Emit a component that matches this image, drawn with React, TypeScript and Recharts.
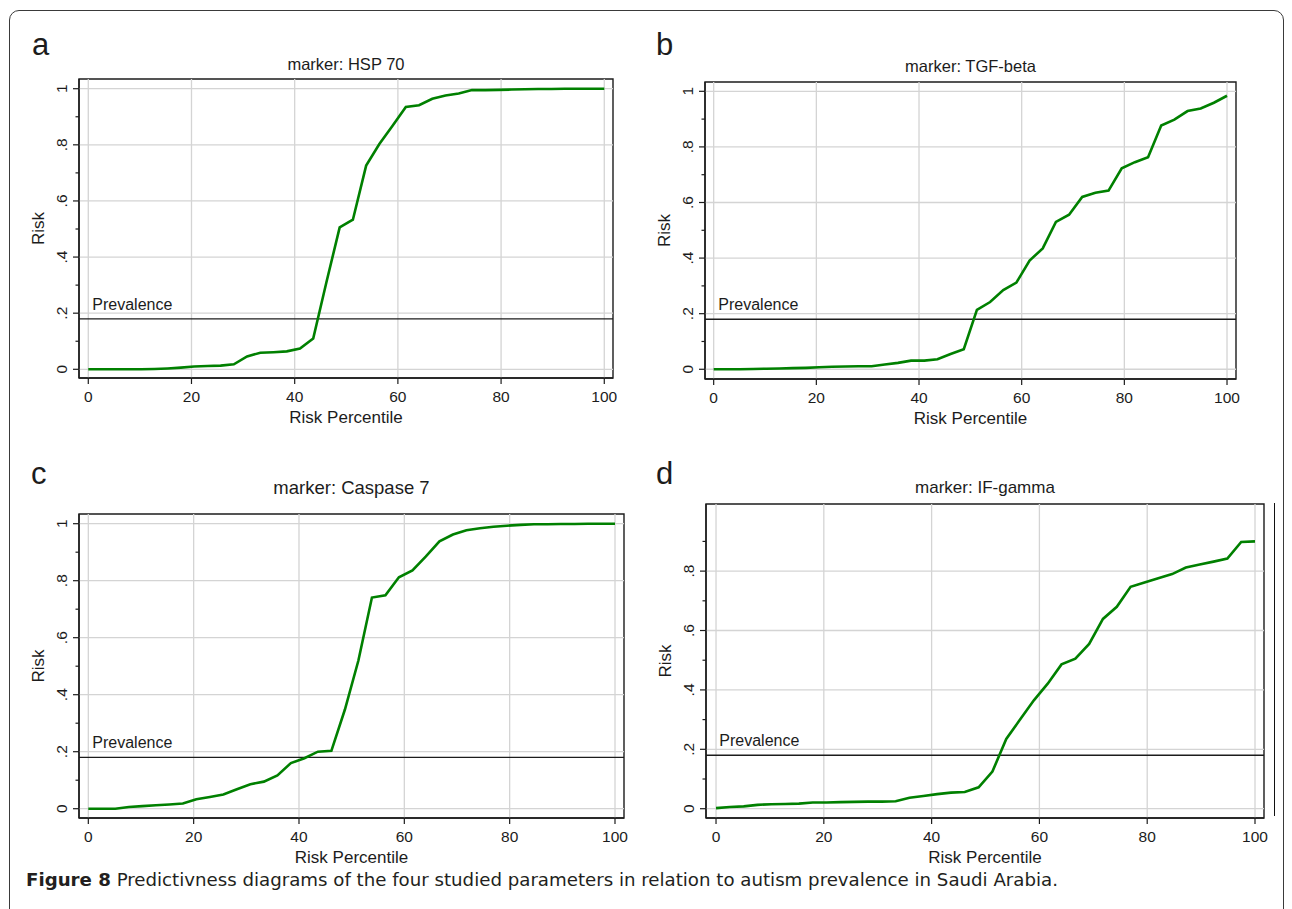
import React from 'react';
import { LineChart, Line, XAxis, YAxis, ReferenceLine, ReferenceArea } from 'recharts';

// --- Data ---
const PERCENTILES = [
  0, 2.56, 5.13, 7.69, 10.26, 12.82, 15.38, 17.95, 20.51, 23.08,
  25.64, 28.21, 30.77, 33.33, 35.9, 38.46, 41.03, 43.59, 46.15, 48.72,
  51.28, 53.85, 56.41, 58.97, 61.54, 64.1, 66.67, 69.23, 71.79, 74.36,
  76.92, 79.49, 82.05, 84.62, 87.18, 89.74, 92.31, 94.87, 97.44, 100,
];

const HSP70_RISK = [
  0, 0, 0, 0, 0, 0.001, 0.003, 0.006, 0.01, 0.012,
  0.013, 0.018, 0.046, 0.059, 0.061, 0.064, 0.074, 0.11, 0.31, 0.506,
  0.533, 0.726, 0.803, 0.868, 0.935, 0.941, 0.964, 0.976, 0.983, 0.995,
  0.995, 0.996, 0.997, 0.998, 0.999, 0.999, 1, 1, 1, 1,
];

const TGF_BETA_RISK = [
  0, 0, 0, 0.001, 0.002, 0.003, 0.004, 0.005, 0.007, 0.009,
  0.01, 0.011, 0.011, 0.017, 0.023, 0.031, 0.031, 0.036, 0.055, 0.072,
  0.214, 0.242, 0.285, 0.312, 0.391, 0.435, 0.53, 0.556, 0.62, 0.635,
  0.643, 0.723, 0.745, 0.763, 0.877, 0.898, 0.929, 0.938, 0.959, 0.984,
];

const CASPASE7_RISK = [
  0, 0, 0, 0.006, 0.009, 0.012, 0.015, 0.018, 0.033, 0.041,
  0.05, 0.068, 0.086, 0.095, 0.117, 0.16, 0.177, 0.2, 0.203, 0.348,
  0.52, 0.741, 0.749, 0.812, 0.836, 0.885, 0.938, 0.962, 0.977, 0.984,
  0.989, 0.993, 0.996, 0.998, 0.998, 0.999, 0.999, 1, 1, 1,
];

const IF_GAMMA_RISK = [
  0.002, 0.006, 0.008, 0.013, 0.015, 0.016, 0.017, 0.021, 0.021, 0.022,
  0.023, 0.024, 0.024, 0.025, 0.037, 0.043, 0.049, 0.054, 0.056, 0.072,
  0.125, 0.235, 0.3, 0.365, 0.421, 0.486, 0.505, 0.555, 0.639, 0.68,
  0.747, 0.762, 0.776, 0.79, 0.812, 0.822, 0.832, 0.842, 0.898, 0.9,
];

const PREVALENCE = 0.18;
const X_TICKS = [0, 20, 40, 60, 80, 100];
const Y_TICKS_FULL = [0, 0.1, 0.2, 0.3, 0.4, 0.5, 0.6, 0.7, 0.8, 0.9, 1];
const Y_MAJOR_FULL = [0, 0.2, 0.4, 0.6, 0.8, 1];
const Y_TICKS_D = [0, 0.1, 0.2, 0.3, 0.4, 0.5, 0.6, 0.7, 0.8, 0.9];
const Y_MAJOR_D = [0, 0.2, 0.4, 0.6, 0.8];

// --- Styles ---
const FONT = '"Liberation Sans", Arial, Helvetica, sans-serif';
const GREEN = '#008000';
const GRID = '#d4d4d4';
const INK = '#1c1c1c';
const Y_AXIS_W = 79;
const X_AXIS_H = 30;
const PAD = 4;

type Box = { left: number; top: number; right: number; bottom: number };
interface PanelDef {
  letter: string;
  title: string;
  values: number[];
  yTicks: number[];
  yMajor: number[];
  box: Box;
  xDomain: [number, number];
  yDomain: [number, number];
  titleSize: number;
  titleBase: number;
  letterX: number;
  letterBase: number;
}

const PANELS: PanelDef[] = [
  {
    letter: 'a', title: 'marker: HSP 70', values: HSP70_RISK,
    yTicks: Y_TICKS_FULL, yMajor: Y_MAJOR_FULL,
    box: { left: 79, top: 79, right: 613, bottom: 378 },
    xDomain: [-1.8, 101.69], yDomain: [-0.031, 1.0346],
    titleSize: 16.5, titleBase: 70, letterX: 32, letterBase: 55,
  },
  {
    letter: 'b', title: 'marker: TGF-beta', values: TGF_BETA_RISK,
    yTicks: Y_TICKS_FULL, yMajor: Y_MAJOR_FULL,
    box: { left: 705, top: 82, right: 1236, bottom: 379 },
    xDomain: [-1.69, 101.75], yDomain: [-0.035, 1.0335],
    titleSize: 16.5, titleBase: 72, letterX: 656, letterBase: 55,
  },
  {
    letter: 'c', title: 'marker: Caspase 7', values: CASPASE7_RISK,
    yTicks: Y_TICKS_FULL, yMajor: Y_MAJOR_FULL,
    box: { left: 79, top: 514, right: 624, bottom: 818 },
    xDomain: [-1.77, 101.71], yDomain: [-0.0326, 1.034],
    titleSize: 18.5, titleBase: 494, letterX: 31, letterBase: 484,
  },
  {
    letter: 'd', title: 'marker: IF-gamma', values: IF_GAMMA_RISK,
    yTicks: Y_TICKS_D, yMajor: Y_MAJOR_D,
    box: { left: 706, top: 504, right: 1264, bottom: 818 },
    xDomain: [-1.86, 101.67], yDomain: [-0.0313, 1.026],
    titleSize: 17, titleBase: 493, letterX: 656, letterBase: 484,
  },
];

const fmtRisk = (v: number) => (v === 0 ? '0' : v === 1 ? '1' : String(v).replace(/^0/, ''));

const XTick = (props: any) => {
  const { x, y, payload } = props;
  return (
    <g>
      <line x1={x} x2={x} y1={y} y2={y + 6} stroke={INK} strokeWidth={1.2} />
      <text x={x} y={y + 18.5} textAnchor="middle" dominantBaseline="central" fontSize={15.5} fontFamily={FONT} fill={INK}>
        {payload.value}
      </text>
    </g>
  );
};

const YTick = (props: any) => {
  const { x, y, payload, majors } = props;
  const v = payload.value as number;
  const isMajor = majors.some((m: number) => Math.abs(m - v) < 1e-6);
  const lx = x - 17.5;
  return (
    <g>
      <line x1={x - (isMajor ? 6 : 3.5)} x2={x} y1={y} y2={y} stroke={INK} strokeWidth={1.2} />
      {isMajor && (
        <text x={lx} y={y} transform={`rotate(-90 ${lx} ${y})`} textAnchor="middle" dominantBaseline="central" fontSize={15.5} fontFamily={FONT} fill={INK}>
          {fmtRisk(v)}
        </text>
      )}
    </g>
  );
};

const PrevalenceLabel = (props: any) => {
  const vb = props.viewBox || {};
  return (
    <text x={vb.x + 13.3} y={vb.y - 9} fontSize={16} fontFamily={FONT} fill={INK}>
      Prevalence
    </text>
  );
};

const RiskPanel: React.FC<{ p: PanelDef }> = ({ p }) => {
  const data = PERCENTILES.map((x, i) => ({ pct: x, risk: p.values[i] }));
  const chartLeft = p.box.left - Y_AXIS_W;
  const width = p.box.right - chartLeft + PAD;
  const height = p.box.bottom - p.box.top + PAD + X_AXIS_H;
  return (
    <div style={{ position: 'absolute', left: chartLeft, top: p.box.top - PAD }}>
      <LineChart width={width} height={height} data={data} margin={{ top: PAD, right: PAD, left: 0, bottom: 0 }}>
        <XAxis
          type="number" dataKey="pct" domain={p.xDomain} ticks={X_TICKS} interval={0} allowDataOverflow
          height={X_AXIS_H} tickSize={0} tickMargin={0} tickLine={false}
          axisLine={{ stroke: INK, strokeWidth: 1.4 }} tick={(t: any) => <XTick {...t} />}
        />
        <YAxis
          type="number" domain={p.yDomain} ticks={p.yTicks} interval={0} allowDataOverflow
          width={Y_AXIS_W} tickSize={0} tickMargin={0} tickLine={false}
          axisLine={{ stroke: INK, strokeWidth: 1.4 }} tick={(t: any) => <YTick {...t} majors={p.yMajor} />}
        />
        {X_TICKS.map((v) => (
          <ReferenceLine key={`gx-${v}`} x={v} stroke={GRID} strokeWidth={1.3} />
        ))}
        {p.yMajor.map((v) => (
          <ReferenceLine key={`gy-${v}`} y={v} stroke={GRID} strokeWidth={1.3} />
        ))}
        <ReferenceLine y={PREVALENCE} stroke={INK} strokeWidth={1.3} label={(l: any) => <PrevalenceLabel {...l} />} />
        <ReferenceArea
          x1={p.xDomain[0]} x2={p.xDomain[1]} y1={p.yDomain[0]} y2={p.yDomain[1]}
          fill="none" fillOpacity={0} stroke={INK} strokeWidth={1.4} ifOverflow="visible"
        />
        <Line type="linear" dataKey="risk" stroke={GREEN} strokeWidth={2.6} dot={false} isAnimationActive={false} />
      </LineChart>
    </div>
  );
};

const PanelText: React.FC<{ p: PanelDef }> = ({ p }) => {
  const cx = (p.box.left + p.box.right) / 2;
  const cy = (p.box.top + p.box.bottom) / 2;
  const riskX = p.box.left - 40.7;
  return (
    <g fontFamily={FONT} fill={INK}>
      <text x={p.letterX} y={p.letterBase} fontSize={31}>{p.letter}</text>
      <text x={cx} y={p.titleBase} fontSize={p.titleSize} textAnchor="middle">{p.title}</text>
      <text x={riskX} y={cy} fontSize={17} textAnchor="middle" dominantBaseline="central" transform={`rotate(-90 ${riskX} ${cy})`}>
        Risk
      </text>
      <text x={cx} y={p.box.bottom + 45} fontSize={17} textAnchor="middle">Risk Percentile</text>
    </g>
  );
};

const App: React.FC = () => (
  <div style={{ position: 'absolute', left: 0, top: 0, width: 1292, height: 909, overflow: 'hidden', background: '#fff' }}>
    <div
      style={{
        position: 'absolute', left: 9, top: 10, width: 1275, height: 960,
        border: '1.5px solid #3a3a3a', borderRadius: 10, boxSizing: 'border-box',
      }}
    />
    {PANELS.map((p) => (
      <RiskPanel key={p.letter} p={p} />
    ))}
    <div style={{ position: 'absolute', left: 1273.5, top: 503, height: 313, borderLeft: '1.5px solid #111' }} />
    <svg width={1292} height={909} style={{ position: 'absolute', left: 0, top: 0, pointerEvents: 'none' }}>
      {PANELS.map((p) => (
        <PanelText key={p.letter} p={p} />
      ))}
      <text
        x={26} y={886} textLength={1032} lengthAdjust="spacingAndGlyphs" fontSize={18}
        fontFamily={'"Liberation Sans Narrow", "DejaVu Sans Condensed", "Liberation Sans", sans-serif'} fill="#231f20"
      >
        <tspan fontWeight="bold">Figure 8</tspan>
        <tspan> Predictivness diagrams of the four studied parameters in relation to autism prevalence in Saudi Arabia.</tspan>
      </text>
    </svg>
  </div>
);

export default App;
